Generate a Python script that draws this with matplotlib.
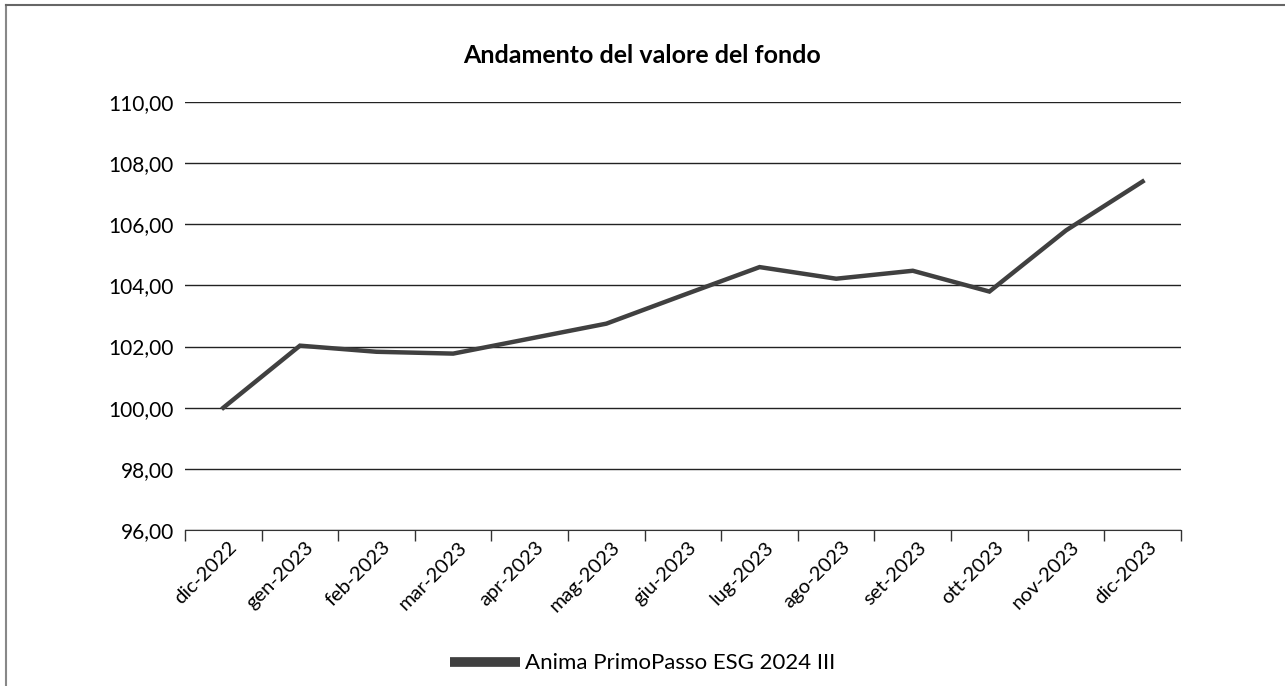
import numpy as np
import matplotlib.pyplot as plt
import matplotlib.transforms as mtransforms
from matplotlib.lines import Line2D

plt.rcParams['font.family'] = ['Lato', 'DejaVu Sans']

# data
mesi = ['dic-2022', 'gen-2023', 'feb-2023', 'mar-2023', 'apr-2023', 'mag-2023',
        'giu-2023', 'lug-2023', 'ago-2023', 'set-2023', 'ott-2023', 'nov-2023', 'dic-2023']
valori = [100.00, 102.03, 101.83, 101.77, 102.26, 102.75,
          103.68, 104.60, 104.22, 104.48, 103.80, 105.80, 107.40]
serie = 'Anima PrimoPasso ESG 2024 III'
titolo = 'Andamento del valore del fondo'
y_ticks = [96, 98, 100, 102, 104, 106, 108, 110]

fig = plt.figure(figsize=(12.85, 6.86), dpi=100)
ax = fig.add_axes([0.144, 0.2274, 0.775, 0.6239])

x = np.arange(len(mesi))
ax.plot(x, valori, color='#404040', lw=3.2, solid_joinstyle='miter')

ax.set_xlim(-0.5, len(mesi) - 0.5)
ax.set_ylim(96, 110)
ax.set_yticks(y_ticks)
ax.yaxis.set_major_formatter(plt.FuncFormatter(lambda v, p: ('%.2f' % v).replace('.', ',')))
ax.tick_params(axis='y', length=0, pad=8, labelsize=15)
ax.grid(axis='y', color='#222222', lw=1)
ax.set_axisbelow(True)

# category boundary ticks on x
ax.set_xticks(np.arange(-0.5, len(mesi), 1.0))
ax.set_xticklabels([])
ax.set_xticks(x, minor=True)
ax.set_xticklabels(mesi, minor=True, rotation=45, ha='right', rotation_mode='anchor', fontsize=14.5)
ax.tick_params(axis='x', which='major', length=8, color='#333333', width=1)
ax.tick_params(axis='x', which='minor', length=0, pad=6)
shift = mtransforms.ScaledTranslation(5/100, 0, fig.dpi_scale_trans)
for lab in ax.get_xticklabels(minor=True):
    lab.set_transform(lab.get_transform() + shift)

for s in ['left', 'right', 'top']:
    ax.spines[s].set_visible(False)
ax.spines['bottom'].set_color('#333333')

fig.text(0.5, 0.919, titolo, ha='center', va='center', fontsize=18, fontweight='bold')

h = Line2D([], [], color='#404040', lw=7, solid_capstyle='butt')
fig.legend([h], [serie], loc='center', bbox_to_anchor=(0.5, 0.033), frameon=False,
           fontsize=16, handlelength=3.15, handletextpad=0.25)

# outer border (left and top)
fig.add_artist(Line2D([6/1285, 6/1285], [0, 1 - 5/686], transform=fig.transFigure, color='#888888', lw=1.5))
fig.add_artist(Line2D([6/1285, 1], [1 - 5/686, 1 - 5/686], transform=fig.transFigure, color='#666666', lw=1.5))

fig.savefig('out.png', dpi=100)
